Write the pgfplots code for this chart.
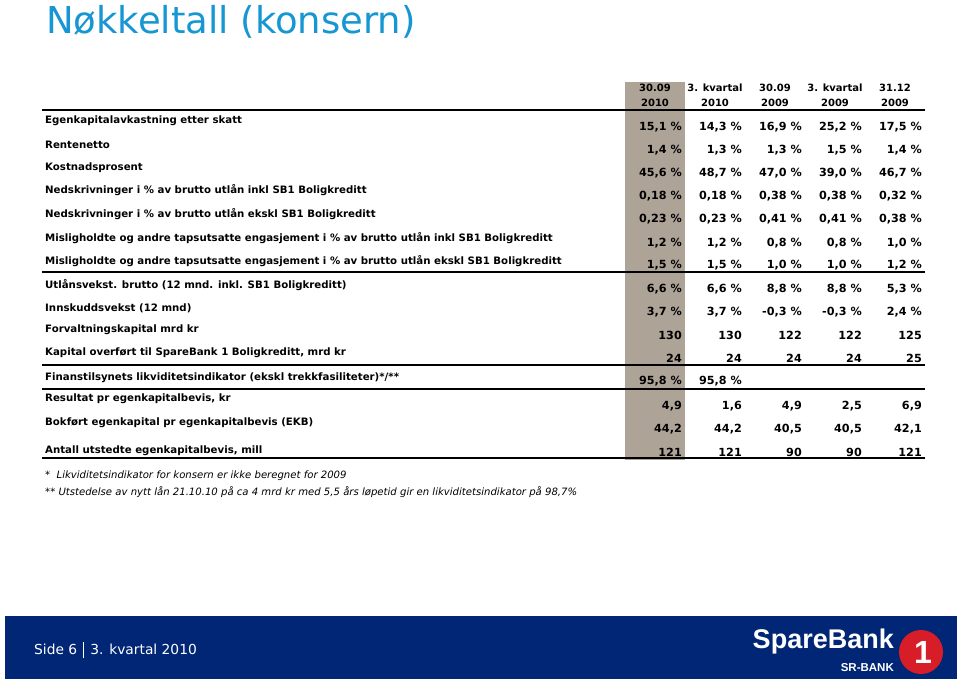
\documentclass[border=0pt]{standalone}
\usepackage{pgfplots}
\pgfplotsset{compat=1.18}
\usepackage{pgfplotstable}
\usepackage{fontspec}
\setmainfont{DejaVu Sans}
\newfontfamily\logofont{Liberation Sans}

\definecolor{titleblue}{RGB}{22,150,210}
\definecolor{navy}{RGB}{0,38,117}
\definecolor{colgray}{RGB}{173,163,151}
\definecolor{logored}{RGB}{215,30,40}

% ly = label row position, vy = value row position (pixels from the top)
\pgfplotstableread[col sep=semicolon]{
ly;vy;label;c1;c2;c3;c4;c5
121;127;Egenkapitalavkastning etter skatt;15,1 \%;14,3 \%;16,9 \%;25,2 \%;17,5 \%
145;150;Rentenetto;1,4 \%;1,3 \%;1,3 \%;1,5 \%;1,4 \%
168;173;Kostnadsprosent;45,6 \%;48,7 \%;47,0 \%;39,0 \%;46,7 \%
190;196;Nedskrivninger i \% av brutto utlån inkl SB1 Boligkreditt;0,18 \%;0,18 \%;0,38 \%;0,38 \%;0,32 \%
214;219;Nedskrivninger i \% av brutto utlån ekskl SB1 Boligkreditt;0,23 \%;0,23 \%;0,41 \%;0,41 \%;0,38 \%
238;243;Misligholdte og andre tapsutsatte engasjement i \% av brutto utlån inkl SB1 Boligkreditt;1,2 \%;1,2 \%;0,8 \%;0,8 \%;1,0 \%
261;265;Misligholdte og andre tapsutsatte engasjement i \% av brutto utlån ekskl SB1 Boligkreditt;1,5 \%;1,5 \%;1,0 \%;1,0 \%;1,2 \%
285;289;Utlånsvekst. brutto (12 mnd. inkl. SB1 Boligkreditt);6,6 \%;6,6 \%;8,8 \%;8,8 \%;5,3 \%
308;312;Innskuddsvekst (12 mnd);3,7 \%;3,7 \%;-0,3 \%;-0,3 \%;2,4 \%
330;335;Forvaltningskapital mrd kr;130;130;122;122;125
353;358;Kapital overført til SpareBank 1 Boligkreditt, mrd kr;24;24;24;24;25
378;381;Finanstilsynets likviditetsindikator (ekskl trekkfasiliteter)*/**;95,8 \%;95,8 \%;{};{};{}
399;406;Resultat pr egenkapitalbevis, kr;4,9;1,6;4,9;2,5;6,9
423;429;Bokført egenkapital pr egenkapitalbevis (EKB);44,2;44,2;40,5;40,5;42,1
451;452;Antall utstedte egenkapitalbevis, mill;121;121;90;90;121
}\nokkel

\pgfplotstableread[col sep=semicolon]{
x;top;bot
655;30.09;2010
715;3. kvartal;2010
775;30.09;2009
835;3. kvartal;2009
895;31.12;2009
}\hdr

\begin{document}
\begin{tikzpicture}
\begin{axis}[
    scale only axis, width=960pt, height=681pt,
    xmin=0, xmax=960, ymin=0, ymax=681, y dir=reverse,
    hide axis, clip=false,
    tabtext/.style={draw=none, mark=none, nodes near coords,
        point meta=explicit symbolic,
        every node near coord/.append style={inner sep=0pt,
            font=\bfseries\fontsize{10.2}{12}\selectfont}},
    valtext/.style={tabtext,
        every node near coord/.append style={anchor=east,
            font=\bfseries\fontsize{11.2}{13}\selectfont}},
]
% page background
\addplot[fill=white, draw=none] coordinates {(0,0) (960,0) (960,681) (0,681)};
% shaded first column
\addplot[fill=colgray, draw=none] coordinates {(625,82) (685,82) (685,460) (625,460)};

% rules
\addplot[black, line width=1.3pt] coordinates {(42,110) (925,110)};
\addplot[black, line width=1.3pt] coordinates {(42,272) (925,272)};
\addplot[black, line width=1.3pt] coordinates {(42,365) (925,365)};
\addplot[black, line width=1.3pt] coordinates {(42,389) (925,389)};
\addplot[black, line width=1.3pt] coordinates {(42,458) (925,458)};

% column heads
\addplot[tabtext, every node near coord/.append style={anchor=center,
        font=\bfseries\fontsize{10}{12}\selectfont}]
    table[x=x, y expr=88, meta=top] {\hdr};
\addplot[tabtext, every node near coord/.append style={anchor=center,
        font=\bfseries\fontsize{10}{12}\selectfont}]
    table[x=x, y expr=103, meta=bot] {\hdr};

% row labels
\addplot[tabtext, every node near coord/.append style={anchor=west}]
    table[x expr=45, y=ly, meta=label] {\nokkel};

% values, right aligned
\addplot[valtext] table[x expr=682, y=vy, meta=c1] {\nokkel};
\addplot[valtext] table[x expr=742, y=vy, meta=c2] {\nokkel};
\addplot[valtext] table[x expr=802, y=vy, meta=c3] {\nokkel};
\addplot[valtext] table[x expr=862, y=vy, meta=c4] {\nokkel};
\addplot[valtext] table[x expr=922, y=vy, meta=c5] {\nokkel};

% title and notes
\node[anchor=base west, inner sep=0pt, text=titleblue,
      font=\fontsize{37}{42}\selectfont] at (axis cs:46,33) {Nøkkeltall (konsern)};
\node[anchor=west, inner sep=0pt, font=\itshape\fontsize{10.1}{12}\selectfont]
    at (axis cs:45,476) {*\ \ Likviditetsindikator for konsern er ikke beregnet for 2009};
\node[anchor=west, inner sep=0pt, font=\itshape\fontsize{10.1}{12}\selectfont]
    at (axis cs:45,492) {** Utstedelse av nytt lån 21.10.10 på ca 4 mrd kr med 5,5 års løpetid gir en likviditetsindikator på 98,7\%};

% footer
\addplot[fill=navy, draw=none] coordinates {(5,616) (957,616) (957,679) (5,679)};
\node[anchor=west, inner sep=0pt, text=white, font=\fontsize{13.8}{16}\selectfont]
    at (axis cs:34,650) {Side 6\hspace{0.45em}\rule[-0.25em]{0.7pt}{1.2em}\hspace{0.45em}3. kvartal 2010};
\node[anchor=base east, inner sep=0pt, text=white, font=\logofont\bfseries\fontsize{27}{30}\selectfont]
    at (axis cs:894,648) {SpareBank};
\node[anchor=base east, inner sep=0pt, text=white, font=\logofont\bfseries\fontsize{11.5}{13}\selectfont]
    at (axis cs:894,671) {SR-BANK};
\fill[logored] (axis cs:921,652) circle [radius=22pt];
\node[text=white, inner sep=0pt, font=\logofont\bfseries\fontsize{32}{34}\selectfont]
    at (axis cs:923,652) {1};
\end{axis}
\end{tikzpicture}
\end{document}
